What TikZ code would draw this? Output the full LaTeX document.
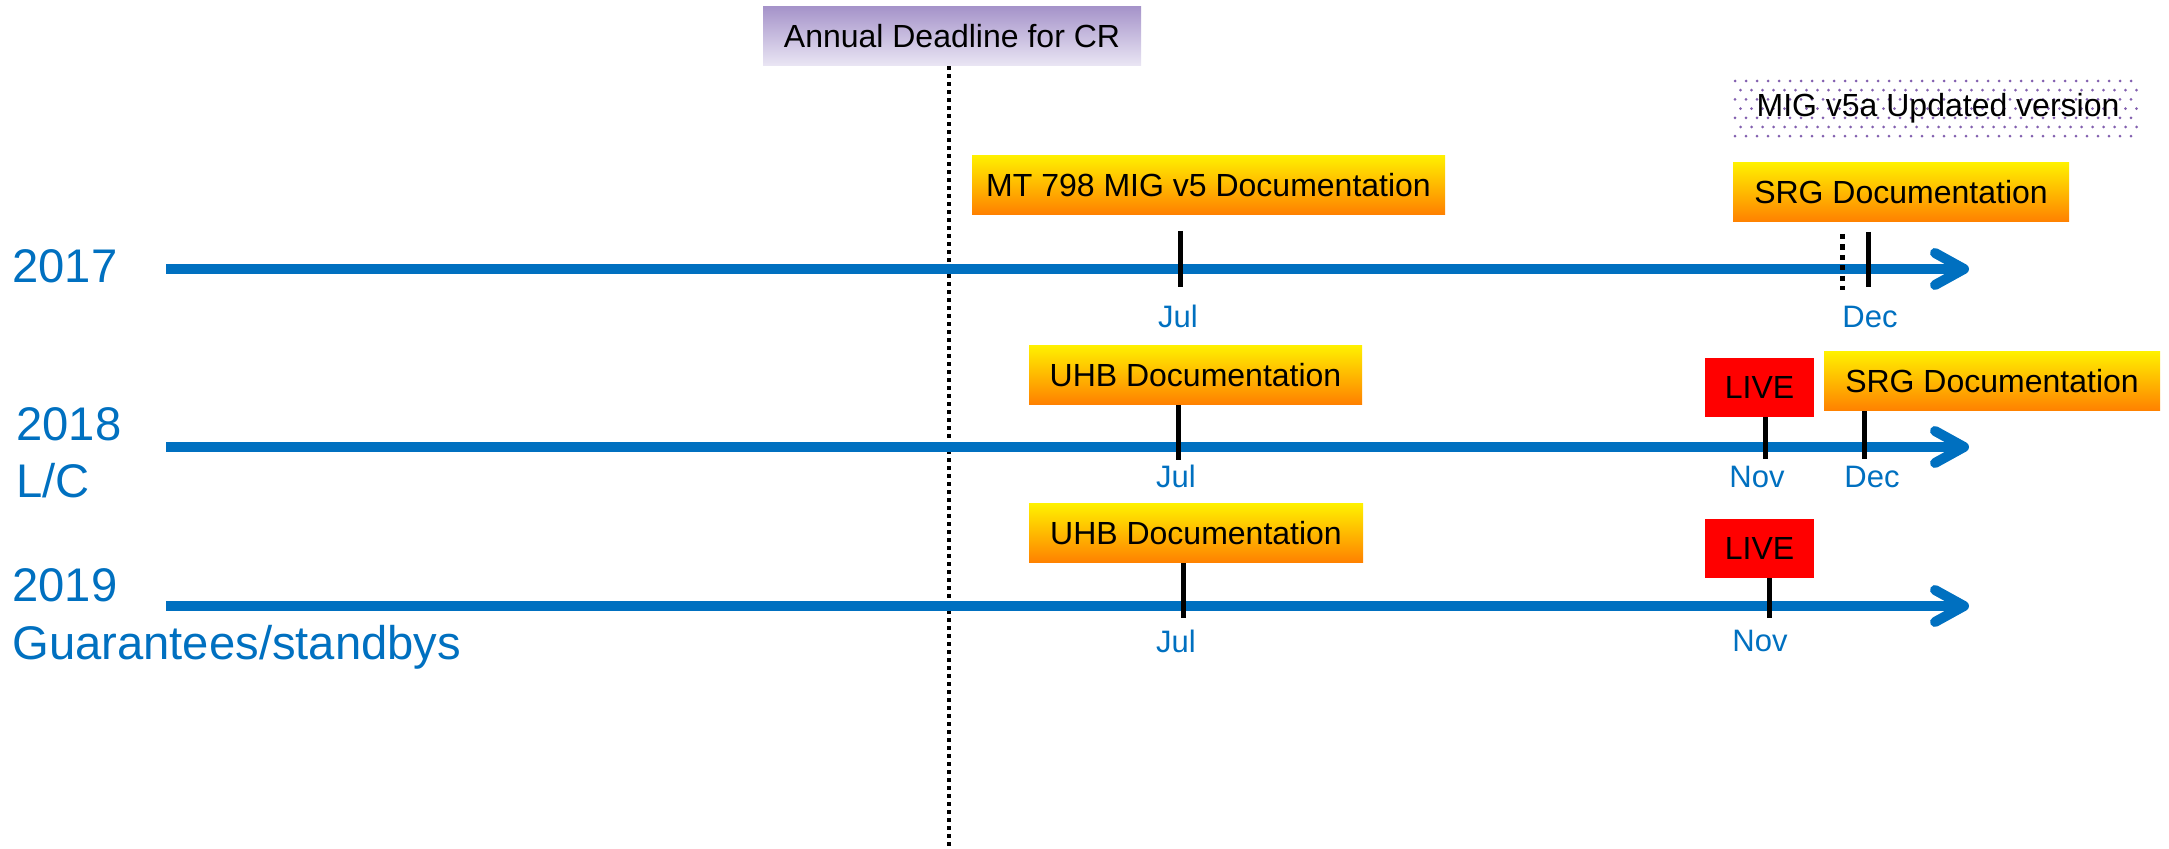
\documentclass[tikz,border=0pt]{standalone}
\usepackage{fontspec}
\setmainfont{Liberation Sans}
\usetikzlibrary{calc}
\definecolor{tlblue}{RGB}{0,112,192}
\definecolor{gtop}{RGB}{255,240,0}
\definecolor{gbot}{RGB}{255,128,0}
\definecolor{ptop}{RGB}{166,148,202}
\definecolor{pbot}{RGB}{234,230,244}
\definecolor{dotc}{RGB}{130,95,175}
\begin{document}
\begin{tikzpicture}[x=0.5pt,y=-0.5pt,
  boxfont/.style={font=\fontsize{16}{19}\selectfont},
  docbox/.style={boxfont, rectangle, top color=gtop, bottom color=gbot, draw=none, inner sep=0pt, minimum height=29.5pt, text=black},
  livebox/.style={boxfont, rectangle, fill=red, inner sep=0pt, minimum height=29.5pt, minimum width=54.5pt, text=black},
  notebox/.style={boxfont, rectangle, inner sep=0pt, minimum height=28.5pt, text=black},
  deadbox/.style={boxfont, rectangle, top color=ptop, bottom color=pbot, inner sep=0pt, minimum height=29.5pt, text=black},
  month/.style={font=\fontsize{15.5}{18}\selectfont, text=tlblue, anchor=base, inner sep=0pt},
  year/.style={font=\fontsize{23.6}{28}\selectfont, text=tlblue, anchor=base west, inner sep=0pt},
  tl/.style={draw=tlblue, line width=5pt},
  chev/.style={draw=tlblue, line width=5pt, line cap=round, line join=round},
  tick/.style={draw=black, line width=2.5pt},
  dtick/.style={draw=black, line width=2.5pt, dash pattern=on 2.6pt off 2.6pt},
  dline/.style={draw=black, line width=2pt, dash pattern=on 2pt off 2pt}
]
\useasboundingbox (0,0) rectangle (2169,849);

% year labels
\node[year] (y17) at (12,283) {2017};
\node[year] (y18) at (16,441) {2018};
\node[year] (y18b) at (16,498) {L/C};
\node[year] (y19) at (12,602) {2019};
\node[year] (y19b) at (12,660) {Guarantees/standbys};

% deadline
\node[deadbox, minimum width=189pt] (dead) at (952,36.5) {Annual Deadline for CR};
\coordinate (dlend) at (949,849);
\draw[dline] (dlend |- dead.south) -- (dlend);

% MIG v5a dotted box
\foreach \r in {0,...,6} {
  \pgfmathsetmacro{\yy}{81+\r*9.2}
  \pgfmathsetmacro{\off}{mod(\r,2)*5.5}
  \foreach \c in {0,...,36} {
    \fill[dotc] ({1735+\c*11+\off},\yy) circle (0.75pt);
  }
}
\node[notebox, minimum width=205pt] (mig) at (1938,108.5) {MIG v5a Updated version};

% 2017 timeline
\coordinate (s17) at (166,269);
\coordinate (e17) at (1964,269);
\draw[tl] (s17) -- (e17);
\draw[chev] ($(e17)+(-29,-16)$) -- (e17) -- ($(e17)+(-29,16)$);
\node[docbox, minimum width=236.5pt] (mt) at (1208.5,185) {MT 798 MIG v5 Documentation};
\node[docbox, minimum width=168pt] (srg17) at (1901,192.5) {SRG Documentation};
\coordinate (j17a) at (1180,231); \coordinate (j17b) at (1180,287);
\draw[tick] (j17a) -- (j17b);
\coordinate (d17a) at (1868,232); \coordinate (d17b) at (1868,287);
\draw[tick] (d17a) -- (d17b);
\coordinate (q17a) at (1842,234); \coordinate (q17b) at (1842,290);
\draw[dtick] (q17a) -- (q17b);
\node[month] (jul17) at (1178,328) {Jul};
\node[month] (dec17) at (1870,328) {Dec};

% 2018 timeline
\coordinate (s18) at (166,447);
\coordinate (e18) at (1964,447);
\draw[tl] (s18) -- (e18);
\draw[chev] ($(e18)+(-29,-16)$) -- (e18) -- ($(e18)+(-29,16)$);
\node[docbox, minimum width=166.5pt] (uhb18) at (1195.5,375) {UHB Documentation};
\node[livebox] (live18) at (1759.5,387.5) {LIVE};
\node[docbox, minimum width=168pt] (srg18) at (1992,381.5) {SRG Documentation};
\coordinate (j18) at (1178,460);
\draw[tick] (j18 |- uhb18.south) -- (j18);
\coordinate (n18) at (1765,459);
\draw[tick] (n18 |- live18.south) -- (n18);
\coordinate (d18) at (1864,459);
\draw[tick] (d18 |- srg18.south) -- (d18);
\node[month] (jul18) at (1176,488) {Jul};
\node[month] (nov18) at (1757,488) {Nov};
\node[month] (dec18) at (1872,488) {Dec};

% 2019 timeline
\coordinate (s19) at (166,606);
\coordinate (e19) at (1964,606);
\draw[tl] (s19) -- (e19);
\draw[chev] ($(e19)+(-29,-16)$) -- (e19) -- ($(e19)+(-29,16)$);
\node[docbox, minimum width=167pt] (uhb19) at (1196,533.5) {UHB Documentation};
\node[livebox] (live19) at (1759.5,548.5) {LIVE};
\coordinate (j19) at (1183,618);
\draw[tick] (j19 |- uhb19.south) -- (j19);
\coordinate (n19) at (1769,618);
\draw[tick] (n19 |- live19.south) -- (n19);
\node[month] (jul19) at (1176,653) {Jul};
\node[month] (nov19) at (1760,652) {Nov};
\end{tikzpicture}
\end{document}
